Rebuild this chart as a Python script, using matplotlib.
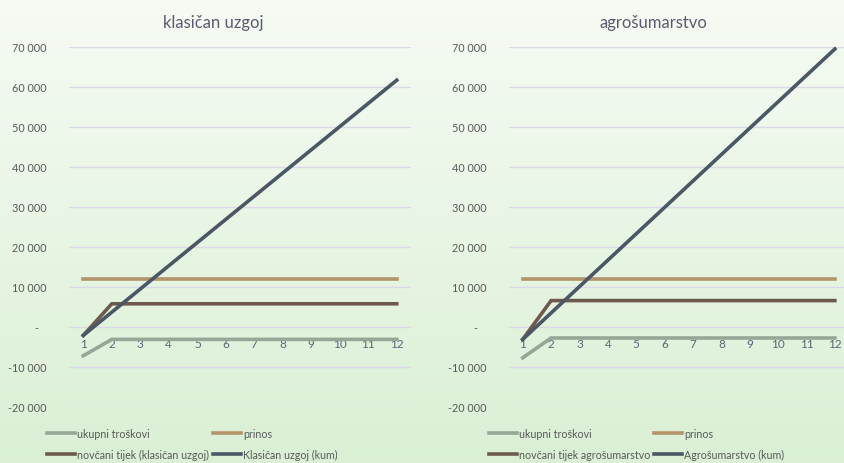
import numpy as np
import matplotlib.pyplot as plt
from matplotlib.ticker import FuncFormatter

plt.rcParams['font.family'] = ['Lato', 'DejaVu Sans']

# podaci
godine = list(range(1, 13))

# klasičan uzgoj
trosk_klas = [-7200] + [-3100] * 11
prinos_klas = [12100] * 12
tijek_klas = [-2100] + [5800] * 11
kum_klas = [-2100, 3700, 9500, 15300, 21100, 26900, 32700, 38500, 44300, 50100, 55900, 61700]

# agrošumarstvo
trosk_agro = [-7700] + [-2750] * 11
prinos_agro = [12100] * 12
tijek_agro = [-3100] + [6600] * 11
kum_agro = [-3100, 3500, 10100, 16700, 23300, 29900, 36500, 43100, 49700, 56300, 62900, 69500]

naslovi = ['klasičan uzgoj', 'agrošumarstvo']
legende = [
    ['ukupni troškovi', 'prinos', 'novčani tijek (klasičan uzgoj)', 'Klasičan uzgoj (kum)'],
    ['ukupni troškovi', 'prinos', 'novčani tijek agrošumarstvo', 'Agrošumarstvo (kum)'],
]
serije = [
    [trosk_klas, prinos_klas, tijek_klas, kum_klas],
    [trosk_agro, prinos_agro, tijek_agro, kum_agro],
]
boje = ['#97a797', '#b3946b', '#6e5a4d', '#4a5866']


def fmt(v, pos):
    if v == 0:
        return '-   '
    return f'{int(v):,}'.replace(',', ' ')


fig = plt.figure(figsize=(8.45, 4.64), dpi=100)

# pozadina s gradijentom
bg = fig.add_axes([0, 0, 1, 1], zorder=-10)
grad = np.linspace(0, 1, 256).reshape(-1, 1)
c_top = np.array([0.965, 0.984, 0.955])
c_bot = np.array([0.855, 0.941, 0.835])
img = c_top + (c_bot - c_top) * grad[:, :, None]
bg.imshow(img, aspect='auto', extent=[0, 1, 0, 1])
bg.axis('off')

pozicije = [[0.0817, 0.1207, 0.4047, 0.7759], [0.6018, 0.1207, 0.4030, 0.7759]]
naslov_x = [0.252, 0.773]
leg_x = [0.0496, 0.5724]

for i in range(2):
    ax = fig.add_axes(pozicije[i])
    ax.patch.set_alpha(0)
    linije = []
    for s, c, lab in zip(serije[i], boje, legende[i]):
        l, = ax.plot(godine, s, color=c, lw=2.6, label=lab, clip_on=False,
                     solid_joinstyle='miter', zorder=3)
        linije.append(l)
    ax.set_xlim(0.5, 12.5)
    ax.set_ylim(-20000, 70000)
    ax.set_yticks(range(-20000, 70001, 10000))
    ax.yaxis.set_major_formatter(FuncFormatter(fmt))
    ax.grid(axis='y', color='#dcd8ea', lw=1)
    ax.set_axisbelow(True)
    for sp in ['top', 'right', 'left']:
        ax.spines[sp].set_visible(False)
    ax.spines['bottom'].set_position(('data', 0))
    ax.spines['bottom'].set_visible(False)
    ax.set_xticks(godine)
    ax.tick_params(axis='y', length=0, pad=16, labelsize=7.8, labelcolor='#595959')
    ax.tick_params(axis='x', length=0, pad=8, labelsize=8.5, labelcolor='#5d6478')
    fig.text(naslov_x[i], 0.950, naslovi[i], ha='center', va='center',
             fontsize=12, color='#5a5a72')
    h = [linije[0], linije[2], linije[1], linije[3]]
    fig.legend(h, [x.get_label() for x in h], ncol=2, loc='upper left',
               bbox_to_anchor=(leg_x[i], 0.087), frameon=False, fontsize=7.7,
               labelcolor='#595959', handlelength=2.6, handletextpad=0.2,
               columnspacing=0.37, labelspacing=0.95, borderpad=0)

fig.savefig('out.png', dpi=100)
